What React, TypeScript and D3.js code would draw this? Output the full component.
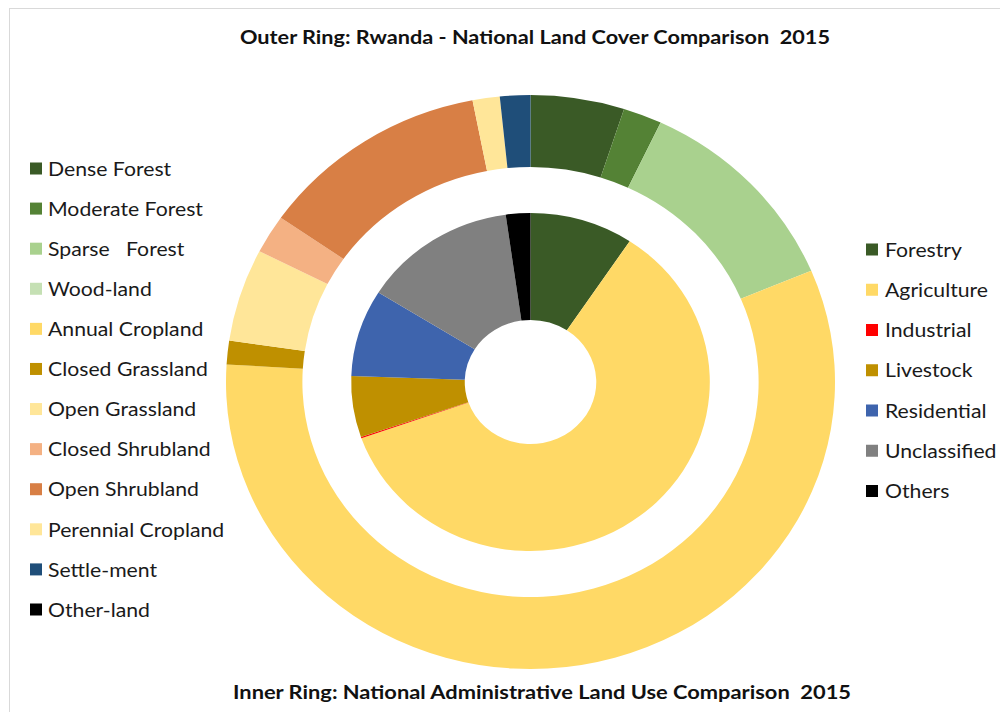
import React from "react";
import * as d3 from "d3";

// Outer ring: land cover (percent of national area)
const coverLabels = [
  "Dense Forest",
  "Moderate Forest",
  "Sparse   Forest",
  "Wood-land",
  "Annual Cropland",
  "Closed Grassland",
  "Open Grassland",
  "Closed Shrubland",
  "Open Shrubland",
  "Perennial Cropland",
  "Settle-ment",
  "Other-land",
];
const coverValues = [4.97, 2.06, 11.64, 0.0, 57.3, 1.33, 5.22, 2.17, 12.25, 1.44, 1.61, 0.0];
const coverColors = [
  "#3a5a26",
  "#548235",
  "#a9d18e",
  "#c5e0b4",
  "#ffd966",
  "#bf9000",
  "#ffe699",
  "#f4b183",
  "#d87f45",
  "#ffe699",
  "#1f4e79",
  "#000000",
];

// Inner ring: administrative land use (percent)
const useLabels = ["Forestry", "Agriculture", "Industrial", "Livestock", "Residential", "Unclassified", "Others"];
const useValues = [9.33, 60.28, 0.12, 5.83, 8.33, 13.9, 2.21];
const useColors = ["#3a5a26", "#ffd966", "#ff0000", "#bf9000", "#3e64ad", "#808080", "#000000"];

const titleTop = "Outer Ring: Rwanda - National Land Cover Comparison  2015";
const titleBottom = "Inner Ring: National Administrative Land Use Comparison  2015";

const W = 1000;
const H = 712;
const FONT = "Lato, 'Open Sans', sans-serif";

export default function App() {
  const cx = 530.5;
  const cy = 382;
  const sx = 1.061;

  const pie = d3
    .pie<number>()
    .sort(null)
    .value((d) => d)
    .startAngle(0)
    .endAngle(2 * Math.PI);

  const outerArc = d3.arc<d3.PieArcDatum<number>>().innerRadius(215).outerRadius(287);
  const innerArc = d3.arc<d3.PieArcDatum<number>>().innerRadius(62).outerRadius(169);

  const outerArcs = pie(coverValues);
  const innerArcs = pie(useValues);

  const leftLegendY = d3.scalePoint<number>().domain(d3.range(coverLabels.length)).range([168.5, 609.5]);
  const rightLegendY = d3.scalePoint<number>().domain(d3.range(useLabels.length)).range([249.5, 491]);

  return (
    <svg
      width={W}
      height={H}
      style={{ position: "absolute", left: 0, top: 0, background: "#fff" }}
      fontFamily={FONT}
    >
      <line x1={9.5} y1={8} x2={9.5} y2={H} stroke="#d9d9d9" strokeWidth={1} />
      <line x1={9.5} y1={8.5} x2={W} y2={8.5} stroke="#d9d9d9" strokeWidth={1} />

      <text
        x={535}
        y={44}
        textAnchor="middle"
        fontWeight="bold"
        fontSize={18.5}
        fill="#111"
        textLength={590}
        lengthAdjust="spacingAndGlyphs"
        style={{ whiteSpace: "pre" }}
      >
        {titleTop}
      </text>

      <g transform={`translate(${cx},${cy}) scale(${sx},1)`}>
        {outerArcs.map((a, i) => (
          <path key={"o" + i} d={outerArc(a) || ""} fill={coverColors[i]} />
        ))}
        {innerArcs.map((a, i) => (
          <path key={"i" + i} d={innerArc(a) || ""} fill={useColors[i]} />
        ))}
      </g>

      {coverLabels.map((lab, i) => {
        const y = leftLegendY(i) as number;
        return (
          <g key={"l" + i}>
            <rect x={30} y={y - 6} width={12} height={12} fill={coverColors[i]} />
            <text
              transform={`translate(48,${y}) scale(${sx},1)`}
              dy="0.36em"
              fontSize={20}
              fill="#1a1a1a"
              style={{ whiteSpace: "pre" }}
            >
              {lab}
            </text>
          </g>
        );
      })}

      {useLabels.map((lab, i) => {
        const y = rightLegendY(i) as number;
        return (
          <g key={"r" + i}>
            <rect x={866} y={y - 6} width={12} height={12} fill={useColors[i]} />
            <text
              transform={`translate(885,${y}) scale(${sx},1)`}
              dy="0.36em"
              fontSize={20}
              fill="#1a1a1a"
              style={{ whiteSpace: "pre" }}
            >
              {lab}
            </text>
          </g>
        );
      })}

      <text
        x={542}
        y={699}
        textAnchor="middle"
        fontWeight="bold"
        fontSize={18.5}
        fill="#111"
        textLength={618}
        lengthAdjust="spacingAndGlyphs"
        style={{ whiteSpace: "pre" }}
      >
        {titleBottom}
      </text>
    </svg>
  );
}
